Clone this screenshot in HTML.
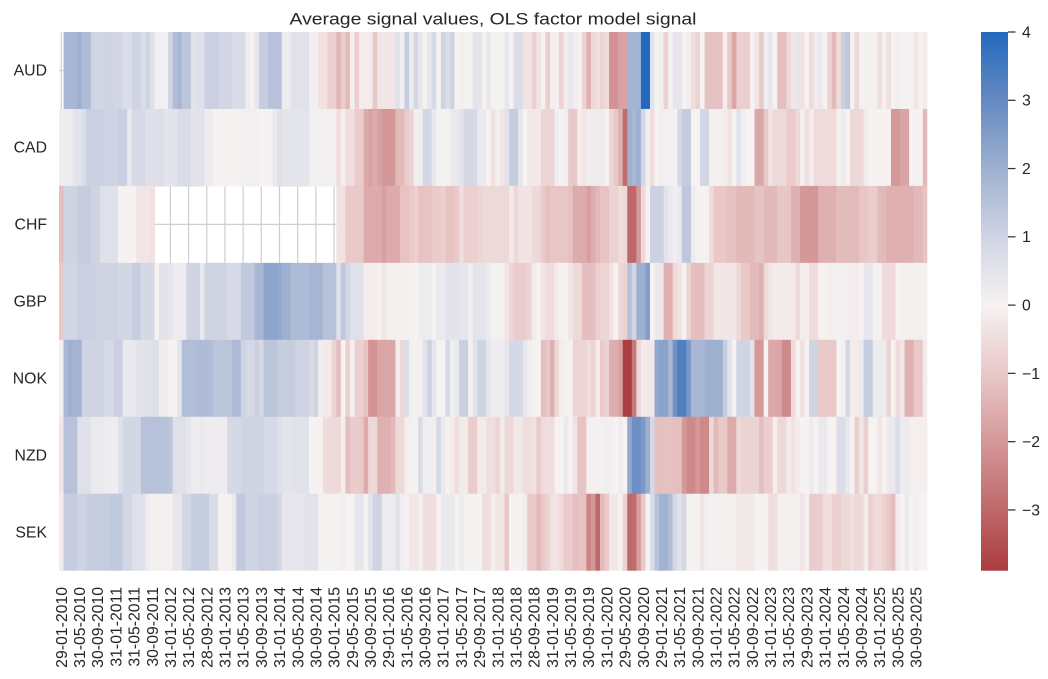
<!DOCTYPE html>
<html>
<head>
<meta charset="utf-8">
<style>
  html,body{margin:0;padding:0;background:#fff;}
  svg{display:block;}
  text{font-family:"Liberation Sans","DejaVu Sans",Arial,sans-serif;fill:#262626;}
</style>
</head>
<body>
<svg id="chart" xmlns="http://www.w3.org/2000/svg" width="1048" height="679" viewBox="0 0 1048 679">
  <rect x="0" y="0" width="1048" height="679" fill="#ffffff"/>
  <text x="493" y="24.5" text-anchor="middle" font-size="17" textLength="407" lengthAdjust="spacingAndGlyphs">Average signal values, OLS factor model signal</text>
  <g id="grid"></g>
  <g id="cells"></g>
  <g id="ylabels"></g>
  <g id="xlabels"></g>
  <defs>
    <linearGradient id="cbar" x1="0" y1="0" x2="0" y2="1">
      <stop offset="0" stop-color="rgb(35,105,189)"/>
      <stop offset="0.1267" stop-color="rgb(100,138,194)"/>
      <stop offset="0.2535" stop-color="rgb(158,176,208)"/>
      <stop offset="0.3802" stop-color="rgb(207,212,227)"/>
      <stop offset="0.5070" stop-color="rgb(246,242,242)"/>
      <stop offset="0.6337" stop-color="rgb(233,200,200)"/>
      <stop offset="0.7605" stop-color="rgb(213,152,153)"/>
      <stop offset="0.8872" stop-color="rgb(191,104,106)"/>
      <stop offset="1" stop-color="rgb(171,60,64)"/>
    </linearGradient>
  </defs>
  <rect x="981" y="32" width="27" height="538.7" fill="url(#cbar)"/>
  <g id="cbticks" stroke="#333" stroke-width="1.25"></g>
  <g id="cblabels"></g>
</svg>
<script>
(function(){
  var NS="http://www.w3.org/2000/svg";
  var x0=59, y0=32, totalW=868.3, totalH=538.7, ncol=191, nrow=7;
  var W=totalW/ncol, RH=totalH/nrow;
  var rows=["AUD","CAD","CHF","GBP","NOK","NZD","SEK"];
  var data=[
"N,1.8*3,2.0,1.7*2,1.0,0.9*2,1.0*2,0.9*2,0.7*2,1.0*2,0.7,1.0,0.6,0.1*3,1.0,1.6,1.8,1.4*2,0.5,0.6*2,1.1*3,0.9*3,0.75*3,0.2,0,0.4,1.2*2,1.5*2,1.5,0.25*2,0.55*4,0.15*2,-0.4*2,-0.8*2,-1.4,-0.9,-1.3,-0.1,-0.8,-0.15*3,-1.0,-0.3*4,0.55,0.15,1.2,0.25,0.9,0.4,0.05,0.4,0.85,0,1.0,0.7,1.0,0,-0.1,0.05*2,0.45*2,0,0.4,0.05*3,0.4,0,0.7*2,-0.35*2,-0.8,-0.35,-0.05,-0.85,-0.1*2,-0.75,-0.15,0.4,-0.15,0,-0.75,-1.5,-0.6,-0.45,-0.75,-0.55,-2.1*2,-1.8*2,1.9*3,4.0*2,0.55,0,0.15,-0.75,0,0.4*2,0,-0.15,-0.5,-0.75,0,-1.15*4,-0.1,-1.0,-1.7,-0.85*3,0,-0.3,-1.0,0.15,0.4,0,-1.2*2,-0.6,-0.3,0.4,-0.35,0,-0.55,-0.2,0.3,0,-0.75,-1.3,-0.55,1.1,1.35,0,-0.6,-0.05*4,-0.5,-0.05,-0.45,0,0.15,0.05*3,-0.3,0,-0.15",
"0.2*3,0.5*2,0.7,1.1*4,1.0*3,1.1*2,0.3,0.8*3,0.6*3,0.7,0.5,0.5*2,0.75*3,0.5*3,0.2*2,0*6,0.1*4,0*3,0.3,0.6,0.45*6,0.1*6,-0.5,-0.1,-0.5*2,-0.9*2,-1.6,-1.8,-1.6,-1.8,-2.0*3,-1.3*2,-0.9,-0.75,-0.1,0.15,0.9*2,0.3,0.05*3,0.3*2,0.5,0.85*3,0.3*2,0,-0.4,-0.1,-0.3,0.55,1.2*2,0.4,0,-0.25*3,-0.7*3,0.15,0,0.15,-1.0*2,-0.15,-0.3,0.2*4,0,-0.7,-1.0,-1.5,-2.9,2.0,1.8,2.0,0.9,0.15,-0.5,0,-0.15,0.1*2,0,0.85,1.25*2,0*2,0.9*2,-0.05*3,-0.15,-0.35,0,0.55,0.15,0*2,-1.7*2,-1.0,-0.35,-0.6*3,-0.95*2,-0.6,-0.1,-0.45,-0.15,-0.55*5,0.05,0.25,0,-0.6*3,-0.15,0*5,-2.0*2,-1.75*2,0*3,-1.3",
"-1.2,1.0*3,1.2*3,1.0*2,0.6*4,0*4,-0.3*3,-0.4,N*3,N*24,N*13,-0.4*2,-1.0*4,-1.6*4,-1.85,-1.6*3,-1.1*2,-0.95,-0.8,-1.1*3,-0.95*2,-0.8,-1.1*2,-0.95,-0.5,-0.8*3,-0.7,-0.6*6,-0.2,-0.6,-0.35*3,-0.6*2,-0.95,-1.15,-1.05*4,-1.15,-1.6*3,-1.85,-1.55,-1.3,-1.1*2,-0.75*2,-0.5,-0.6,-3.0*2,-2.0,-0.6,0,1.05*3,0.55,0.3,0.15,0.3,1.35*2,0.25,0*3,-0.55,-1.0*3,-1.15*2,-1.3*4,-1.1*2,-1.3*3,-1.05*3,-1.5*2,-2.0*4,-1.5*4,-1.25*3,-1.3*2,-1.05*2,-0.9*2,-1.3*2,-1.5*6,-1.3*2,-1.1",
"-1.0,0.9*3,1.1*4,1.0*5,0.9*3,1.2*2,0.85*3,0.05,0.5*2,0.4,0.2*3,1.0*3,0.3,1.0*5,0.8*3,1.3*3,1.8*2,2.3*3,2.2,2.0*2,1.7*4,1.85*3,1.5*3,0.6,1.35,0.9,0.6*3,-0.15*3,0,-0.3,-0.05*5,0*2,0.25*3,0.05,0.3*2,0.5*3,0.4*2,0.15,0.45*3,0.25,0.05*3,-0.3,-0.7,-0.9*3,-0.7,-0.2,0,-0.3,-0.5*2,-0.15,0*2,-0.3,-0.6*2,-1.2*3,-0.8,-0.7*2,-0.35,0,-0.6,-0.75,1.5,0.9,2.0*2,2.5,0,0.3,-0.3,-1.5*2,-0.6,-0.35,0,-0.75,-1.2*3,-0.7*2,-0.3*5,-0.6,-1.0*2,-1.3*2,-1.5,-0.6,-0.3,-0.2*5,-0.6,-0.15*2,-0.55*2,0*2,-0.1,0.1*4,-0.15*2,0,0.4*2,-0.05*2,-0.55*3,0,-0.05*6",
"-0.05,1.8,2.0,1.9*2,1.0*5,0.8*2,1.1*2,0.35*3,0.5*2,0.6*3,0.2*2,0*2,0.5,1.6*3,1.7*3,1.6,1.4*4,1.7*2,1.0,0.85*2,1.1,0.8,1.4*3,1.2*4,1.0*3,0.75,1.0,0.15,-0.2*2,-0.7,-1.2,0,-0.8,-0.05,-0.8*2,-1.1,-2.1*2,-1.7*4,-0.15,-0.6,0.7,0.1,0.05*2,0.55,1.05,0.4,0*2,0.85,0.15,0.3,1.1*2,0.05,0.55,1.0*2,0.4,0.2*3,0.4,0.85*3,0.4,0.15,0*2,-1.2,-1.0,-1.5,-0.6,-0.15,-0.05,0,-0.7*3,-0.5,-0.75,-0.15,-0.95,-0.75,-1.55*2,-1.8,-3.85*2,-2.6,-0.6,-0.15,-0.25*2,2.2,2.35*2,1.8,2.8,3.3*2,2.6,1.8*3,2.0*4,1.2,0.55,0,1.0*3,0.55,-2.0*2,0,-1.7*3,-2.3*2,-0.6,0,-0.45,0.05,1.0*2,-1.0*4,0,0.1,0.9,-0.15*2,0.3,1.2*2,0.25*3,-0.75,0,-0.55,-0.3,-1.5*2,-1.0*2,-0.15",
"-0.3,1.5*3,0.6*3,0.3*3,0.2*3,0.6,0.9*4,1.5*6,1.4,0.6*3,0.4,0.2*2,0.3,0.2*5,0.85*3,1.0*5,0.8*3,0.6,0.45*2,0.55*4,0*3,-0.5,-0.6*3,-0.1,-1.2,-0.9*2,-1.0,-1.6,-0.6*2,-1.5*3,-1.3,-0.6*2,-0.1,0.05*2,0.75,0.15*3,0.85,0.3,0,-0.15,-0.5,-0.2*2,-0.9*2,-0.2*2,-0.45*2,-0.7,-0.2,-0.6*2,-0.25*2,-0.5*2,-0.35,-0.95,-0.55,-0.5*2,0*2,0.3,0,-0.35,-1.1*2,-0.05*4,0.15,-0.1,0,0.2,0,2.2,2.85*2,2.6,2.0,0.85,-1.15*4,-1.2*2,-2.0,-2.3*2,-2.0,-2.3*2,-0.6,-1.3,-1.0*2,-1.6*2,-0.6,-0.75*4,-1.2,-0.85*2,-0.1,-0.6*2,-0.15,-0.35,-0.15,0*2,0.25,0,0.3*2,0*2,0.7*2,0.3,0,-0.85,-0.3,-0.85,0*2,-0.3,0,0.25,0.3,0.7,0.25*2,-0.1*4",
"-0.2,1.2*3,1.0*2,1.2*5,1.3*3,0.9*2,0.6*3,0.2,-0.05*4,0.05,0.4*2,0.9*2,1.2*4,0.75*2,0.05*3,0.3,1.3*2,1.0*3,1.1*4,0.9,0.4*5,0.55*3,0.05*5,0.15,0*2,0.4*2,0,0.5,1.0*2,0.25*3,0.55,0.15,-0.05,-0.3*2,-0.1,-0.5*3,0,0.3*3,0.05,0.25,0.05*3,0,-0.5*2,-0.1,-0.3*2,-1.0,0*3,-0.15,-1.0*2,-1.3,-1.0,-0.75,-0.35*2,-0.55,-0.95*2,-1.2,-1.1*2,-2.4,-2.0,-3.0,-1.3,-0.95,-0.25*2,0,-0.75,-3.0,-2.9,-1.9,-1.0,0,0.75,1.5,1.9*2,1.6,0.85,0.55,0.85,0.05*3,-0.3,0.1,-0.05*6,-0.25*4,0*3,-0.5*2,-0.05*5,-0.3,-0.05,-0.9*3,-0.45*2,-0.8*2,-0.6*2,-0.45,-0.6*2,-0.15,-0.8,-0.55*2,-0.75,-1.0,-1.2,-0.15,0,0.3,0,0.15,0*2"
  ];
  var anchors=[[4,35,105,189],[3,100,138,194],[2,158,176,208],[1,207,212,227],[0,246,242,242],[-1,233,200,200],[-2,213,152,153],[-3,191,104,106],[-4,169,55,59]];
  function col(v){
    if(v>=4){return "rgb(35,105,189)";}
    if(v<=-4){return "rgb(169,55,59)";}
    for(var i=0;i<anchors.length-1;i++){
      var a=anchors[i],b=anchors[i+1];
      if(v<=a[0]&&v>=b[0]){
        var t=(a[0]-v)/(a[0]-b[0]);
        var r=Math.round(a[1]+(b[1]-a[1])*t),g=Math.round(a[2]+(b[2]-a[2])*t),bl=Math.round(a[3]+(b[3]-a[3])*t);
        return "rgb("+r+","+g+","+bl+")";
      }
    }
    return "#fff";
  }
  function parse(s){
    var out=[];
    s.split(",").forEach(function(tok){
      tok=tok.trim(); if(!tok) return;
      var n=1,val=tok;
      if(tok.indexOf("*")>=0){var p=tok.split("*");val=p[0];n=parseInt(p[1],10);}
      for(var k=0;k<n;k++){out.push(val==="N"?null:parseFloat(val));}
    });
    return out;
  }
  function el(name,attrs,parent,txt){
    var e=document.createElementNS(NS,name);
    for(var k in attrs){e.setAttribute(k,attrs[k]);}
    if(txt!==undefined){e.textContent=txt;}
    parent.appendChild(e);return e;
  }
  // grid (visible through NaN cells)
  var grid=document.getElementById("grid");
  for(var r=0;r<nrow;r++){
    var yc=y0+(r+0.5)*RH;
    el("line",{x1:x0,x2:x0+totalW,y1:yc,y2:yc,stroke:"#cfcfcf","stroke-width":"1.2"},grid);
  }
  for(var c=0;c<ncol;c+=4){
    var xc=x0+(c+0.5)*W;
    el("line",{x1:xc,x2:xc,y1:y0,y2:y0+totalH,stroke:"#cfcfcf","stroke-width":"1.2"},grid);
  }
  // cells
  var cells=document.getElementById("cells");
  for(var r2=0;r2<nrow;r2++){
    var vals=parse(data[r2]);
    var yy=y0+r2*RH;
    for(var i=0;i<ncol&&i<vals.length;i++){
      if(vals[i]===null) continue;
      var xx=x0+i*W;
      var ww=(i===ncol-1)?W:W+0.6;
      el("rect",{x:xx.toFixed(2),y:yy.toFixed(2),width:ww.toFixed(2),height:(RH+(r2<nrow-1?0.6:0)).toFixed(2),fill:col(vals[i])},cells);
    }
  }
  // y labels
  var yl=document.getElementById("ylabels");
  for(var r3=0;r3<nrow;r3++){
    el("text",{x:"47",y:(y0+(r3+0.5)*RH+5.2).toFixed(1),"text-anchor":"end","font-size":"15.8"},yl,rows[r3]);
  }
  // x labels
  var labels=["29-01-2010","31-05-2010","30-09-2010","31-01-2011","31-05-2011","30-09-2011","31-01-2012","31-05-2012","28-09-2012","31-01-2013","31-05-2013","30-09-2013","31-01-2014","30-05-2014","30-09-2014","30-01-2015","29-05-2015","30-09-2015","29-01-2016","31-05-2016","30-09-2016","31-01-2017","31-05-2017","29-09-2017","31-01-2018","31-05-2018","28-09-2018","31-01-2019","31-05-2019","30-09-2019","31-01-2020","29-05-2020","30-09-2020","29-01-2021","31-05-2021","30-09-2021","31-01-2022","31-05-2022","30-09-2022","31-01-2023","31-05-2023","29-09-2023","31-01-2024","31-05-2024","30-09-2024","31-01-2025","30-05-2025","30-09-2025"];
  var xl=document.getElementById("xlabels");
  for(var j=0;j<labels.length;j++){
    var cx=x0+(4*j+0.5)*W;
    el("text",{transform:"translate("+cx.toFixed(2)+",587) rotate(-90)","text-anchor":"end",dy:"5.6","font-size":"15.8"},xl,labels[j]);
  }
  // colorbar ticks
  var ct=document.getElementById("cbticks"), cl=document.getElementById("cblabels");
  var per=totalH/7.89;
  var tv=[4,3,2,1,0,-1,-2,-3];
  tv.forEach(function(v){
    var y=y0+(4-v)*per;
    el("line",{x1:"1008",x2:"1015.5",y1:y.toFixed(2),y2:y.toFixed(2)},ct);
    el("text",{x:"1022",y:(y+5.4).toFixed(2),"font-size":"15.8"},cl,(v<0?"\u2212"+(-v):String(v)));
  });
})();
</script>
</body>
</html>
